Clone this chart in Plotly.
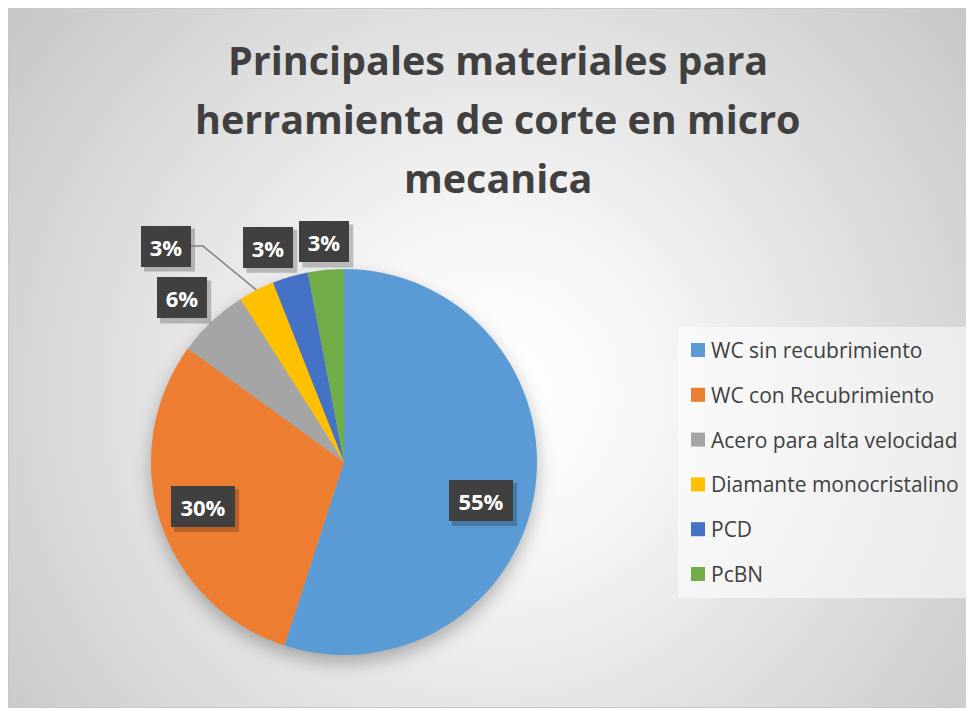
import base64
import math
import plotly.graph_objects as go

# datos del grafico
titulo = ["Principales materiales para", "herramienta de corte en micro", "mecanica"]
materiales = ["WC sin recubrimiento", "WC con Recubrimiento", "Acero para alta velocidad",
              "Diamante monocristalino", "PCD", "PcBN"]
porcentajes = [55, 30, 6, 3, 3, 3]
colores = ["#5B9BD5", "#ED7D31", "#A5A5A5", "#FFC000", "#4472C4", "#70AD47"]

# la pagina tiene 8px de margen, se trabaja en pixeles de la pagina
OFF = 8
W, H = 962, 700
CX, CY, R = 344, 462, 193   # centro y radio del pastel (pixeles de pagina)
FUENTE = "Open Sans"

# fondo con degradado radial y sombra del pastel (svg en data uri)
svg = f'''<svg xmlns="http://www.w3.org/2000/svg" width="{W}" height="{H}">
<defs>
<radialGradient id="g" gradientUnits="userSpaceOnUse" cx="487" cy="385" r="660">
<stop offset="0" stop-color="#ffffff"/><stop offset="0.22" stop-color="#f8f8f8"/>
<stop offset="1" stop-color="#c2c2c2"/></radialGradient>
<filter id="b" x="-30%" y="-30%" width="160%" height="160%"><feGaussianBlur stdDeviation="9"/></filter>
</defs>
<rect x="0.5" y="0.5" width="{W - 1}" height="{H - 1}" fill="url(#g)" stroke="#c8c8c8" stroke-width="1"/>
<circle cx="{CX - OFF}" cy="{CY - OFF + 8}" r="{R}" fill="rgba(0,0,0,0.28)" filter="url(#b)"/>
</svg>'''
fondo = "data:image/svg+xml;base64," + base64.b64encode(svg.encode()).decode()

def px(x):
    return (x - OFF) / W

def py(y):
    return 1 - (y - OFF) / H

fig = go.Figure(go.Pie(
    labels=materiales, values=porcentajes, sort=False, direction="clockwise",
    rotation=0, marker=dict(colors=colores, line=dict(width=0)),
    textinfo="none", hoverinfo="label+percent", showlegend=False,
    domain=dict(x=[px(CX - R), px(CX + R)], y=[py(CY + R), py(CY - R)]),
))

# etiquetas en cajas oscuras: (angulo, factor de radio) de cada caja
ajuste = [(105.7, 0.737), (252.5, 0.766), (315.4, 1.194), (320.5, 1.45), (340.6, 1.18), (354.9, 1.145)]
total = sum(porcentajes)
acum = 0
anots = []
shapes = []
for i, v in enumerate(porcentajes):
    medio = (acum + v / 2) / total * 360
    ang, f = ajuste[i]
    lx = CX + f * R * math.sin(math.radians(ang))
    ly = CY - f * R * math.cos(math.radians(ang))
    texto = "<b>{:d}%</b>".format(round(v / total * 100))
    bw = 64 if v >= 10 else 50
    bh = 41
    # sombra de la caja
    shapes.append(dict(type="rect", xref="paper", yref="paper", layer="above",
                       x0=px(lx - bw / 2 + 3), x1=px(lx + bw / 2 + 4),
                       y0=py(ly + bh / 2 + 5), y1=py(ly - bh / 2 + 3),
                       fillcolor="rgba(0,0,0,0.22)", line=dict(width=0)))
    anots.append(dict(x=px(lx), y=py(ly), xref="paper", yref="paper", text=texto,
                      xanchor="center", yanchor="middle", width=bw, height=bh,
                      showarrow=False, font=dict(family=FUENTE, size=22, color="white"),
                      bgcolor="#404040", borderpad=0, borderwidth=0))
    if i == 3:
        ex = CX + R * math.sin(math.radians(medio))
        ey = CY - R * math.cos(math.radians(medio))
        shapes.append(dict(type="path", xref="paper", yref="paper",
                           path=f"M {px(lx + bw / 2)} {py(ly)} L {px(lx + 37)} {py(ly)} L {px(ex)} {py(ey)}",
                           line=dict(color="#7f7f7f", width=1.5)))
    acum += v

# leyenda manual
shapes.append(dict(type="rect", xref="paper", yref="paper", x0=px(678), x1=px(967), y0=py(598), y1=py(327),
                   fillcolor="rgba(255,255,255,0.55)", line=dict(width=0), layer="below"))
for i, (nom, col) in enumerate(zip(materiales, colores)):
    yc = 350 + i * 44.8
    shapes.append(dict(type="rect", xref="paper", yref="paper", x0=px(691), x1=px(705),
                       y0=py(yc + 7), y1=py(yc - 7), fillcolor=col, line=dict(width=0)))
    anots.append(dict(x=px(709), y=py(yc), xref="paper", yref="paper", text=nom, showarrow=False,
                      xanchor="left", yanchor="middle",
                      font=dict(family=FUENTE, size=21, color="#404040")))

# titulo en tres lineas
for i, linea in enumerate(titulo):
    anots.append(dict(x=px(498), y=py(60 + i * 59), xref="paper", yref="paper",
                      text="<b>" + linea + "</b>", showarrow=False, xanchor="center", yanchor="middle",
                      font=dict(family=FUENTE, size=39.5, color="#404040")))

fig.update_layout(
    width=W, height=H, margin=dict(l=0, r=0, t=0, b=0),
    paper_bgcolor="white",
    annotations=anots, shapes=shapes,
    images=[dict(source=fondo, xref="paper", yref="paper", x=0, y=1, sizex=1, sizey=1,
                 sizing="stretch", layer="below")],
)

fig.write_html("out.html")
